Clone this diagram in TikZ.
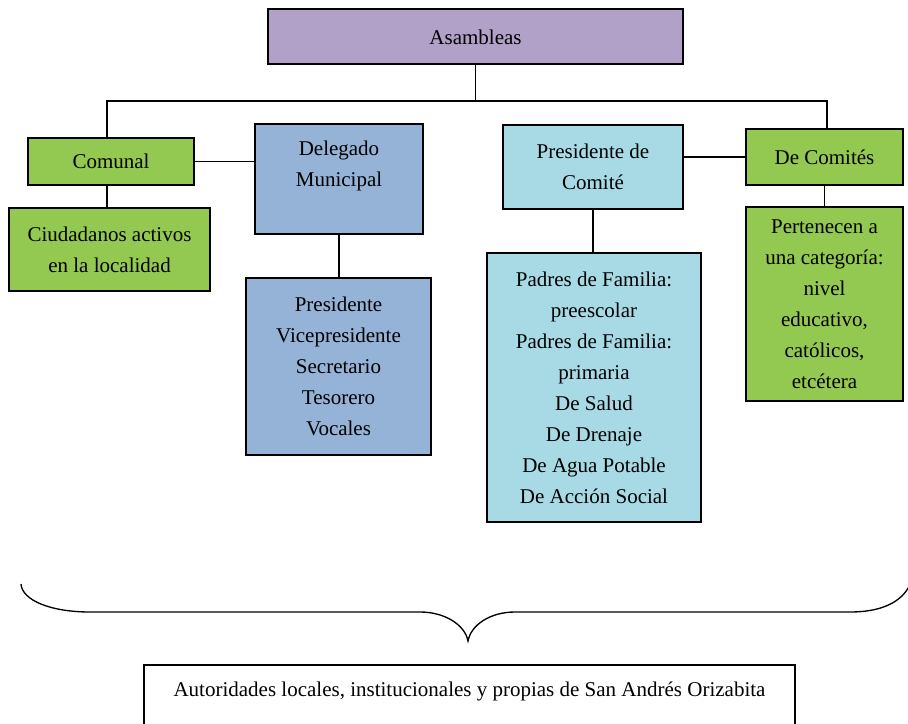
\documentclass[tikz,border=0pt]{standalone}
\usepackage{fontspec}
\setmainfont{Liberation Serif}
\usepackage{tikz}
\definecolor{lila}{HTML}{B1A0C7}
\definecolor{verde}{HTML}{93C851}
\definecolor{azul}{HTML}{95B3D7}
\definecolor{celeste}{HTML}{A8DAE5}
\tikzstyle{block} = [rectangle, 
			draw, 
			line width = 1.5pt,
			align = center,
			inner sep = 0pt,
			font = \fontsize{15.75}{23.25}\selectfont]
\tikzstyle{line} = [draw, line width = 1.2pt]

\begin{document}
\begin{tikzpicture}[x = 0.75pt, y = -0.75pt]
	\clip (0,0) rectangle (908,724);
	\node [block, fill = lila, minimum width = 311.25pt, minimum height = 41.25pt] (asambleas) at (475.5,37) {Asambleas};
	\node [block, fill = verde, minimum width = 124.5pt, minimum height = 35.25pt] (comunal) at (111,161.5) {Comunal};
	\node [block, fill = verde, minimum width = 150.75pt, minimum height = 62.25pt] (ciudadanos) at (109.5,249.5) {Ciudadanos activos\\en la localidad};
	\node [block, fill = azul, minimum width = 126pt, minimum height = 82.5pt] (delegado) at (339,179) {Delegado\\Municipal\\~};
	\node [block, fill = azul, minimum width = 138.75pt, minimum height = 132.75pt] (presidente) at (338.5,366.5) {Presidente\\Vicepresidente\\Secretario\\Tesorero\\Vocales};
	\node [block, fill = celeste, minimum width = 135pt, minimum height = 63pt] (presComite) at (593,167) {Presidente de\\Comité};
	\node [block, fill = celeste, minimum width = 160.5pt, minimum height = 201.75pt] (padres) at (594,387.5) {Padres de Familia:\\preescolar\\Padres de Familia:\\primaria\\De Salud\\De Drenaje\\De Agua Potable\\De Acción Social};
	\node [block, fill = verde, minimum width = 117.75pt, minimum height = 42pt] (deComites) at (824.5,157) {De Comités};
	\node [block, fill = verde, minimum width = 117.75pt, minimum height = 145.5pt] (pertenecen) at (824.5,304) {Pertenecen a\\una categoría:\\nivel\\educativo,\\católicos,\\etcétera};
	\node [block, line width = 1.2pt, minimum width = 488.25pt, minimum height = 60pt] (autoridades) at (469.5,705) {Autoridades locales, institucionales y propias de San Andrés Orizabita\\~};
	% barra de las asambleas
	\coordinate (busL) at (107,101);
	\coordinate (busR) at (827,101);
	\path [line] (asambleas.south) -- (asambleas.south |- busL);
	\path [line] (busL |- comunal.north) -- (busL) -- (busR) -- (busR |- deComites.north);
	\path [line] (busL |- comunal.south) -- (busL |- ciudadanos.north);
	\path [line] (comunal.east) -- (comunal.east -| delegado.west);
	\path [line] (delegado.south) -- (delegado.south |- presidente.north);
	\path [line] (presComite.south) -- (presComite.south |- padres.north);
	\path [line] (deComites.west) -- (deComites.west -| presComite.east);
	\path [line] (deComites.south) -- (deComites.south |- pertenecen.north);
	% llave
	\draw [line width = 1pt] (21,584) .. controls (22,600) and (50,612) .. (90,612) -- (420,612)
		.. controls (445,612) and (465,625) .. (468,641)
		.. controls (471,625) and (490,612) .. (515,612) -- (850,612)
		.. controls (885,612) and (905,600) .. (912,580);
\end{tikzpicture}
\end{document}
